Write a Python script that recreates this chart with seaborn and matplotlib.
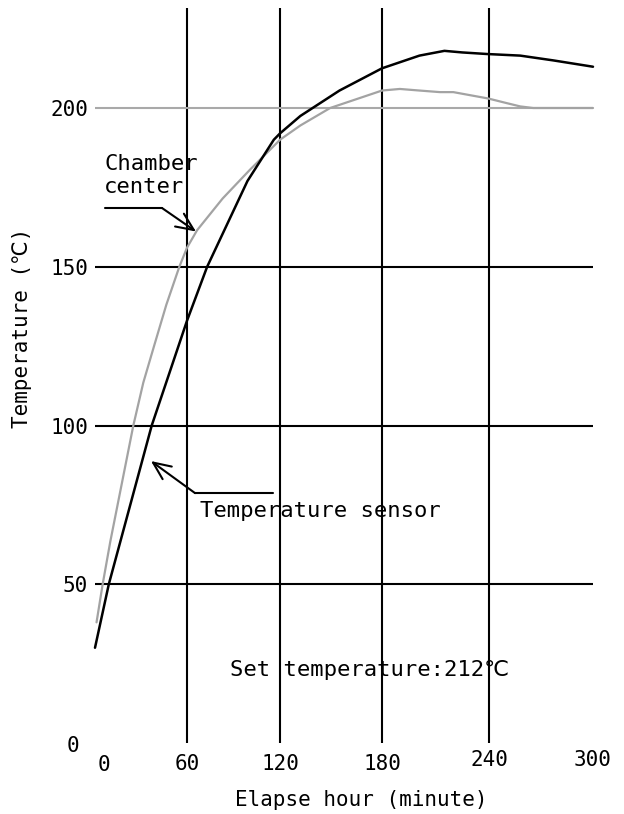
import numpy as np
import pandas as pd
import matplotlib
matplotlib.use("Agg")
import matplotlib.pyplot as plt
import matplotlib.transforms as mtransforms
import seaborn as sns

# Temperature sensor reading (elapsed minutes, degrees C)
sensor_minutes = [0, 9, 37, 60, 73, 99, 116, 120, 132, 155, 180, 201, 215, 225, 239, 258, 277, 300]
sensor_temp = [30, 50, 100, 133, 150, 177, 190, 192, 197.5, 205.5, 212.5, 216.5, 218, 217.5, 217,
               216.5, 215, 213]

# Chamber center reading (elapsed minutes, degrees C)
center_minutes = [1, 5, 10, 25, 31.5, 38.5, 46.5, 55, 60, 66.5, 83, 100.5, 118, 120, 132, 149.5,
                  180, 190, 201, 212.5, 220, 239.5, 250.5, 258, 265.5, 300]
center_temp = [38, 50, 63.5, 100, 113.5, 125, 138, 150, 156, 161.5, 171.5, 180.5, 189, 190, 194.5,
               200, 205.5, 206, 205.5, 205, 205, 203, 201.5, 200.5, 200, 200]

x_ticks = [0, 60, 120, 180, 240, 300]
y_ticks = [0, 50, 100, 150, 200]
grid_minutes = [60, 120, 180, 240]
grid_temps = [50, 100, 150]
reference_temp = 200

x_label = "Elapse hour (minute)"
y_label = "Temperature (℃)"
center_label = "Chamber\ncenter"
sensor_label = "Temperature sensor"
setpoint_label = "Set temperature:212℃"

sensor = pd.DataFrame({"minute": sensor_minutes, "temp": sensor_temp})
center = pd.DataFrame({"minute": center_minutes, "temp": center_temp})

sns.set_style("white")
plt.rcParams["font.family"] = ["DejaVu Sans Mono", "DejaVu Sans"]

# The hand-drawn time axis is not evenly spaced; a piecewise-linear scale keeps that spacing.
knot_minutes = [0, 60, 120, 180, 240, 300]
knot_pos = [0, 92, 185, 287, 394, 498]


def forward(v):
    return np.interp(v, knot_minutes, knot_pos)


def inverse(v):
    return np.interp(v, knot_pos, knot_minutes)


fig = plt.figure(figsize=(6.24, 8.14), dpi=100)
ax = fig.add_axes([95 / 624, 71 / 814, 498 / 624, 736.6 / 814])
ax.set_xscale("function", functions=(forward, inverse))
ax.set_xlim(0, 300)
ax.set_ylim(0, 232)

grid_kw = dict(linewidth=1.5, clip_on=False, zorder=1)
ax.vlines(grid_minutes, 0, 231.5, color="black", **grid_kw)
ax.hlines(grid_temps, 0, 300, color="black", **grid_kw)
ax.hlines(reference_temp, 0, 300, color="#a9a9a9", **grid_kw)

sns.lineplot(data=center, x="minute", y="temp", color="#a3a3a3", linewidth=1.6,
             sort=False, ax=ax, legend=False, zorder=2, clip_on=False)
sns.lineplot(data=sensor, x="minute", y="temp", color="black", linewidth=1.8,
             sort=False, ax=ax, legend=False, zorder=3, clip_on=False)

for s in ax.spines.values():
    s.set_visible(False)

ax.set_xticks(x_ticks)
ax.set_xticklabels([str(t) for t in x_ticks])
ax.set_yticks(y_ticks)
ax.set_yticklabels([str(t) for t in y_ticks])
ax.tick_params(axis="x", length=0, labelsize=15, pad=8, labelcolor="black")
ax.tick_params(axis="y", length=0, labelsize=15, pad=5, labelcolor="black")
ax.grid(False)

# Small hand-set offsets of individual tick labels (points)
def nudge(label, dx, dy):
    off = mtransforms.ScaledTranslation(dx / 72, dy / 72, fig.dpi_scale_trans)
    label.set_transform(label.get_transform() + off)


xlabels = ax.get_xticklabels()
nudge(xlabels[0], 6.5, -0.5)
nudge(xlabels[4], 0, 3)
nudge(xlabels[5], 0, 3)
nudge(ax.get_yticklabels()[0], -6, -1)

ax.set_xlabel(x_label, fontsize=15, va="center", color="black")
ax.xaxis.set_label_coords(0.534, -0.0774)
ax.set_ylabel(y_label, fontsize=15, va="center", color="black")
ax.yaxis.set_label_coords(-0.1466, 0.5634)

text_kw = dict(fontsize=16, color="black")
ax.text(5.9, 178.7, center_label, ha="left", va="center", linespacing=1.2, **text_kw)
ax.text(68.4, 73.1, sensor_label, ha="left", va="center", **text_kw)
ax.text(87.7, 23, setpoint_label, ha="left", va="center", **text_kw)

# Leader lines with open arrowheads
leader_kw = dict(color="black", linewidth=1.5, clip_on=False, zorder=4)
arrow_kw = dict(arrowstyle="->,head_length=0.9,head_width=0.4", color="black",
                linewidth=1.5, mutation_scale=14, shrinkA=0, shrinkB=0)
ax.plot([6.5, 43.7], [168.5, 168.5], **leader_kw)
ax.annotate("", xy=(65.8, 161.1), xytext=(43.7, 168.5), arrowprops=arrow_kw)
ax.plot([115.5, 65.2], [78.7, 78.7], **leader_kw)
ax.annotate("", xy=(36.5, 88.8), xytext=(65.2, 78.7), arrowprops=arrow_kw)

fig.savefig("out.png", dpi=100)
